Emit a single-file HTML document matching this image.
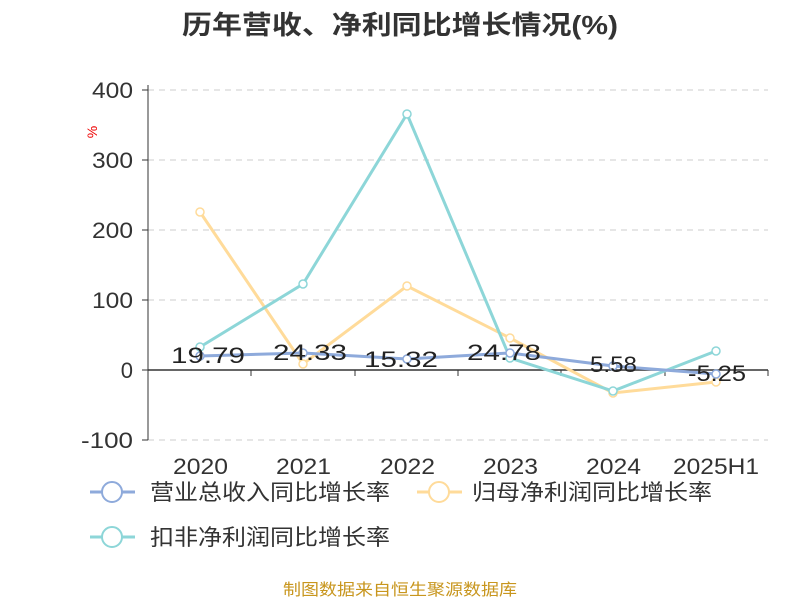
<!DOCTYPE html>
<html><head><meta charset="utf-8"><style>
body{margin:0;background:#fff;}
text{font-family:"Liberation Sans","Noto Sans CJK SC",sans-serif;}
</style></head><body>
<svg width="800" height="600" xmlns="http://www.w3.org/2000/svg">
<text x="182" y="34" textLength="436" lengthAdjust="spacingAndGlyphs" font-size="26" font-weight="bold" fill="#333">历年营收、净利同比增长情况(%)</text>
<text x="92" y="132" font-size="14" fill="#e00" transform="rotate(-90 92 132)" text-anchor="middle" dy="5">%</text>
<g stroke="#ccc" stroke-dasharray="6,5" stroke-width="1">
<line x1="148" y1="90" x2="768" y2="90"/><line x1="148" y1="160" x2="768" y2="160"/>
<line x1="148" y1="230" x2="768" y2="230"/><line x1="148" y1="300" x2="768" y2="300"/>
<line x1="148" y1="440" x2="768" y2="440"/>
</g>
<line x1="148" y1="85" x2="148" y2="440" stroke="#333"/>
<g stroke="#333"><line x1="142" y1="90" x2="148" y2="90"/><line x1="142" y1="160" x2="148" y2="160"/><line x1="142" y1="230" x2="148" y2="230"/><line x1="142" y1="300" x2="148" y2="300"/><line x1="142" y1="370" x2="148" y2="370"/><line x1="142" y1="440" x2="148" y2="440"/></g>
<line x1="148" y1="370" x2="768" y2="370" stroke="#333" stroke-width="1.5"/>
<g stroke="#333"><line x1="251" y1="370" x2="251" y2="376"/><line x1="355" y1="370" x2="355" y2="376"/><line x1="458" y1="370" x2="458" y2="376"/><line x1="561" y1="370" x2="561" y2="376"/><line x1="665" y1="370" x2="665" y2="376"/><line x1="768" y1="370" x2="768" y2="376"/></g>
<g font-size="22" fill="#333" text-anchor="end">
<text x="133" y="98" textLength="41" lengthAdjust="spacingAndGlyphs">400</text><text x="133" y="168" textLength="41" lengthAdjust="spacingAndGlyphs">300</text><text x="133" y="238" textLength="41" lengthAdjust="spacingAndGlyphs">200</text><text x="133" y="308" textLength="41" lengthAdjust="spacingAndGlyphs">100</text><text x="133" y="378">0</text><text x="133" y="448" textLength="52" lengthAdjust="spacingAndGlyphs">-100</text>
</g>
<g font-size="22" fill="#333">
<text x="173" y="474" textLength="55" lengthAdjust="spacingAndGlyphs">2020</text><text x="276" y="474" textLength="55" lengthAdjust="spacingAndGlyphs">2021</text><text x="380" y="474" textLength="55" lengthAdjust="spacingAndGlyphs">2022</text><text x="483" y="474" textLength="55" lengthAdjust="spacingAndGlyphs">2023</text><text x="586" y="474" textLength="55" lengthAdjust="spacingAndGlyphs">2024</text><text x="673" y="474" textLength="86" lengthAdjust="spacingAndGlyphs">2025H1</text>
</g>
<g fill="#fff" stroke-width="3">
<polyline fill="none" stroke="#ffdb9a" points="200,212 303,364 407,286 510,338 613,393 716,382"/>
<polyline fill="none" stroke="#8dd6d8" points="200,347 303,284 407,114 510,358 613,391 716,351"/>
<polyline fill="none" stroke="#8eaadb" points="200,356 303,353 407,359 510,353 613,366 716,374"/>
</g>
<g fill="#fff" stroke-width="1.5">
<g stroke="#ffdb9a"><circle cx="200" cy="212" r="4"/><circle cx="303" cy="364" r="4"/><circle cx="407" cy="286" r="4"/><circle cx="510" cy="338" r="4"/><circle cx="613" cy="393" r="4"/><circle cx="716" cy="382" r="4"/></g>
<g stroke="#8dd6d8"><circle cx="200" cy="347" r="4"/><circle cx="303" cy="284" r="4"/><circle cx="407" cy="114" r="4"/><circle cx="510" cy="358" r="4"/><circle cx="613" cy="391" r="4"/><circle cx="716" cy="351" r="4"/></g>
<g stroke="#8eaadb"><circle cx="200" cy="356" r="4"/><circle cx="303" cy="353" r="4"/><circle cx="407" cy="359" r="4"/><circle cx="510" cy="353" r="4"/><circle cx="613" cy="366" r="4"/><circle cx="716" cy="374" r="4"/></g>
</g>
<g font-size="22" fill="#222">
<text x="171" y="363" textLength="74" lengthAdjust="spacingAndGlyphs">19.79</text><text x="273" y="360" textLength="74" lengthAdjust="spacingAndGlyphs">24.33</text><text x="364" y="367" textLength="74" lengthAdjust="spacingAndGlyphs">15.32</text><text x="467" y="360" textLength="74" lengthAdjust="spacingAndGlyphs">24.78</text><text x="590" y="372" textLength="47" lengthAdjust="spacingAndGlyphs">5.58</text><text x="688" y="381" textLength="58" lengthAdjust="spacingAndGlyphs">-5.25</text>
</g>
<g stroke-width="3" fill="#fff">
<line x1="90" y1="492" x2="135" y2="492" stroke="#8eaadb"/><circle cx="112" cy="492" r="10" stroke="#8eaadb" stroke-width="2"/>
<line x1="417" y1="492" x2="462" y2="492" stroke="#ffdb9a"/><circle cx="439" cy="492" r="10" stroke="#ffdb9a" stroke-width="2"/>
<line x1="90" y1="537" x2="135" y2="537" stroke="#8dd6d8"/><circle cx="112" cy="537" r="10" stroke="#8dd6d8" stroke-width="2"/>
</g>
<g font-size="22" fill="#333">
<text x="150" y="500" textLength="240" lengthAdjust="spacingAndGlyphs">营业总收入同比增长率</text><text x="472" y="500" textLength="240" lengthAdjust="spacingAndGlyphs">归母净利润同比增长率</text><text x="150" y="545" textLength="240" lengthAdjust="spacingAndGlyphs">扣非净利润同比增长率</text>
</g>
<text x="283" y="595" textLength="234" lengthAdjust="spacingAndGlyphs" font-size="16" fill="#c8961e">制图数据来自恒生聚源数据库</text>
</svg>
</body></html>
